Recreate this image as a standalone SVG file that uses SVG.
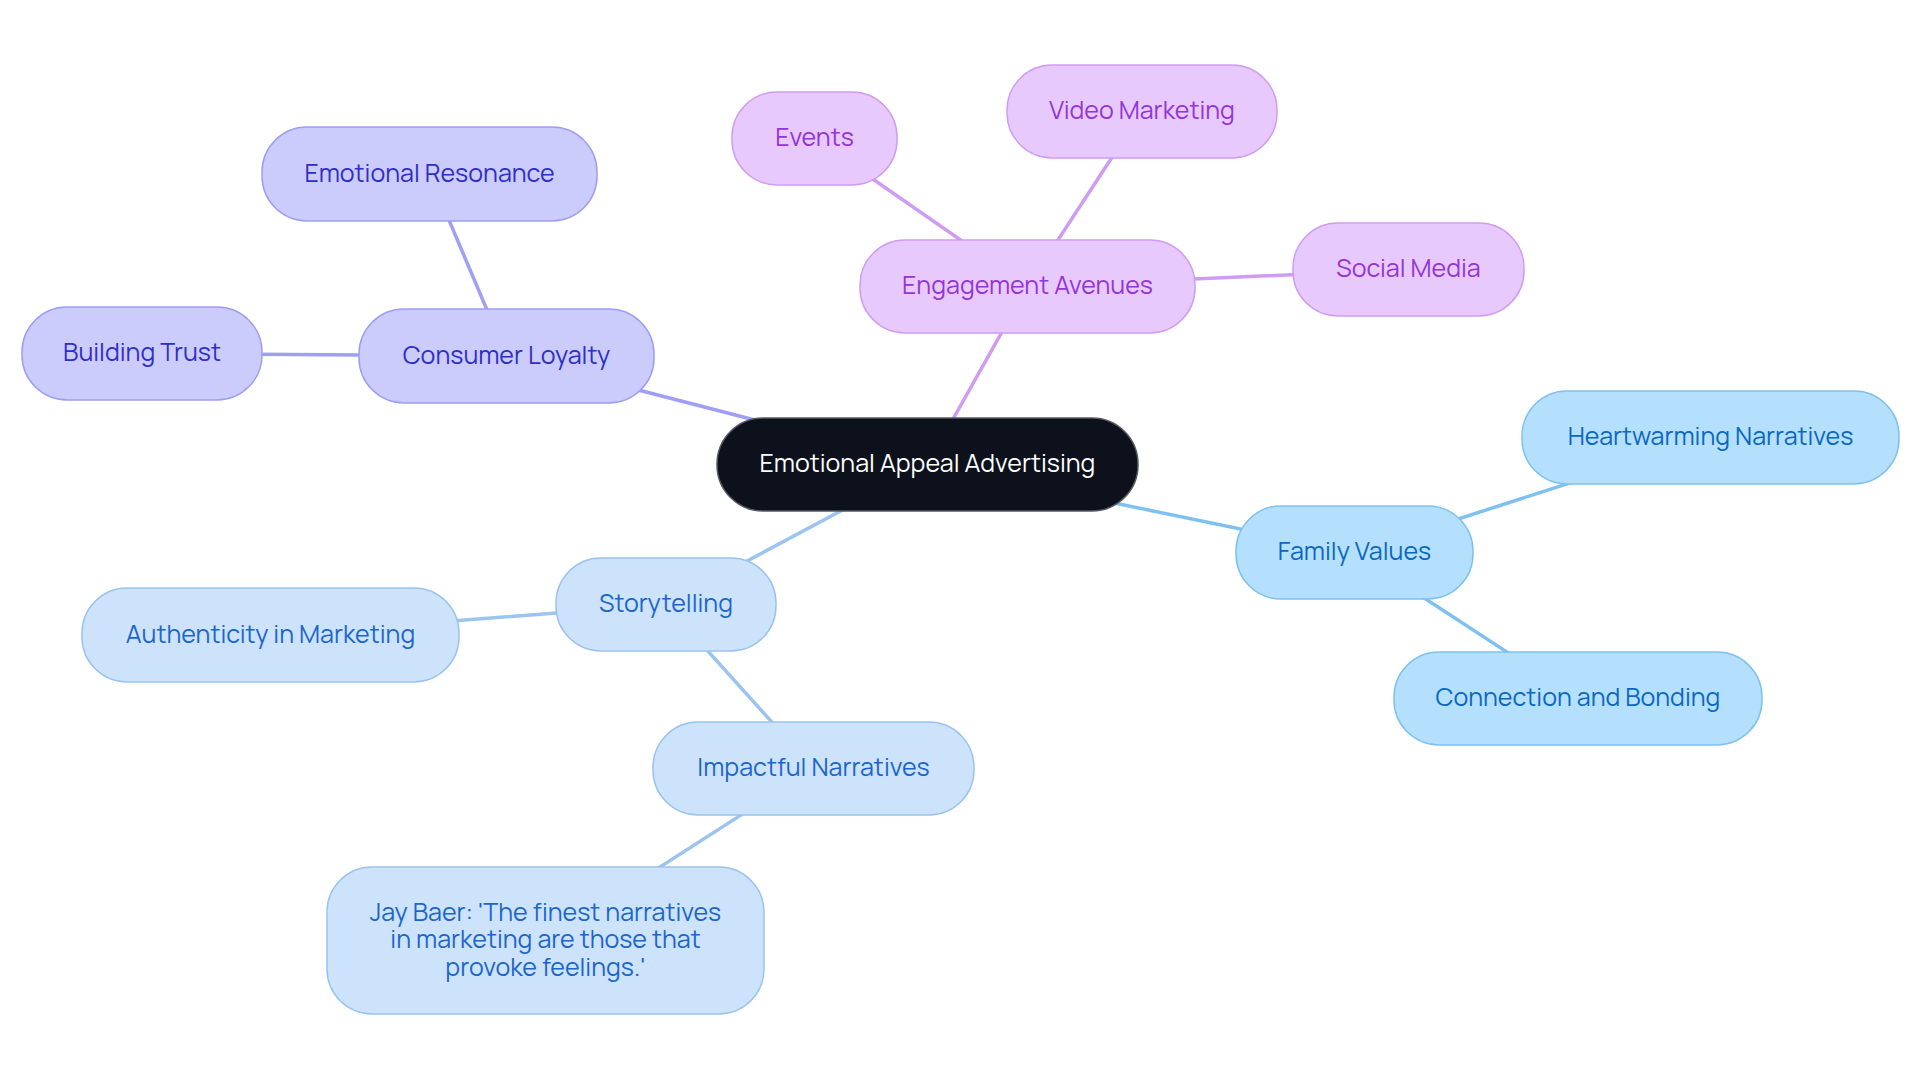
<svg xmlns="http://www.w3.org/2000/svg" width="1920" height="1083" viewBox="0 0 1920 1083">
<style>
text{font-family:Manrope,Inter,"Noto Sans",sans-serif;font-size:25px;text-anchor:middle}
.e{fill:none;stroke-width:3.5;stroke-linecap:round}
.nc rect{fill:#0c111b;stroke:#555a60;stroke-width:1.5}
.nc text{fill:#ffffff}
.p1 rect{fill:#cbcbfc;stroke:#9e9df4;stroke-width:1.5}
.p1 text{fill:#2e2ec9}
.p2 rect{fill:#e8c9fd;stroke:#cf9cf3;stroke-width:1.5}
.p2 text{fill:#9335d8}
.p3 rect{fill:#b4e0fd;stroke:#7ec1f1;stroke-width:1.5}
.p3 text{fill:#0b68c0}
.p4 rect{fill:#cde3fb;stroke:#9ac3f0;stroke-width:1.5}
.p4 text{fill:#1b66cc}
</style>
<g id="connectors">
<g class="e" stroke="#a09ff5">
<line x1="927.5" y1="464.5" x2="506.5" y2="356"/>
<line x1="506.5" y1="356" x2="429.5" y2="174"/>
<line x1="506.5" y1="356" x2="142" y2="353.5"/>
</g>
<g class="e" stroke="#cf9cf3">
<line x1="927.5" y1="464.5" x2="1027.5" y2="286.5"/>
<line x1="1027.5" y1="286.5" x2="814.5" y2="138.5"/>
<line x1="1027.5" y1="286.5" x2="1142" y2="111.5"/>
<line x1="1027.5" y1="286.5" x2="1408.5" y2="269.5"/>
</g>
<g class="e" stroke="#7ec0f0">
<line x1="927.5" y1="464.5" x2="1354.5" y2="552.5"/>
<line x1="1354.5" y1="552.5" x2="1710.5" y2="437.5"/>
<line x1="1354.5" y1="552.5" x2="1578" y2="698.5"/>
</g>
<g class="e" stroke="#9cc4f0">
<line x1="927.5" y1="464.5" x2="666" y2="604.5"/>
<line x1="666" y1="604.5" x2="270.5" y2="635"/>
<line x1="666" y1="604.5" x2="813.5" y2="768.5"/>
<line x1="813.5" y1="768.5" x2="545.5" y2="940.5"/>
</g>
</g>
<g id="n-center" class="nc"><rect x="717" y="418" width="421" height="93" rx="46"/><text x="927.5" y="472">Emotional Appeal Advertising</text></g>
<g id="n-consumer-loyalty" class="p1"><rect x="359" y="309" width="295" height="94" rx="45"/><text x="506.5" y="363.5">Consumer Loyalty</text></g>
<g id="n-emotional-resonance" class="p1"><rect x="262" y="127" width="335" height="94" rx="45"/><text x="429.5" y="181.5">Emotional Resonance</text></g>
<g id="n-building-trust" class="p1"><rect x="22" y="307" width="240" height="93" rx="45"/><text x="142" y="361">Building Trust</text></g>
<g id="n-engagement-avenues" class="p2"><rect x="860" y="240" width="335" height="93" rx="45"/><text x="1027.5" y="294">Engagement Avenues</text></g>
<g id="n-events" class="p2"><rect x="732" y="92" width="165" height="93" rx="45"/><text x="814.5" y="146">Events</text></g>
<g id="n-video-marketing" class="p2"><rect x="1007" y="65" width="270" height="93" rx="45"/><text x="1142" y="119">Video Marketing</text></g>
<g id="n-social-media" class="p2"><rect x="1293" y="223" width="231" height="93" rx="45"/><text x="1408.5" y="277">Social Media</text></g>
<g id="n-family-values" class="p3"><rect x="1236" y="506" width="237" height="93" rx="45"/><text x="1354.5" y="560">Family Values</text></g>
<g id="n-heartwarming-narratives" class="p3"><rect x="1522" y="391" width="377" height="93" rx="45"/><text x="1710.5" y="445">Heartwarming Narratives</text></g>
<g id="n-connection-bonding" class="p3"><rect x="1394" y="652" width="368" height="93" rx="45"/><text x="1578" y="706">Connection and Bonding</text></g>
<g id="n-storytelling" class="p4"><rect x="556" y="558" width="220" height="93" rx="45"/><text x="666" y="612">Storytelling</text></g>
<g id="n-authenticity" class="p4"><rect x="82" y="588" width="377" height="94" rx="45"/><text x="270.5" y="642.5">Authenticity in Marketing</text></g>
<g id="n-impactful-narratives" class="p4"><rect x="653" y="722" width="321" height="93" rx="45"/><text x="813.5" y="776">Impactful Narratives</text></g>
<g id="n-jay-baer" class="p4"><rect x="327" y="867" width="437" height="147" rx="45"/><text x="545.5" y="920.5">Jay Baer: 'The finest narratives<tspan x="545.5" y="948">in marketing are those that</tspan><tspan x="545.5" y="975.5">provoke feelings.'</tspan></text></g>
</svg>
